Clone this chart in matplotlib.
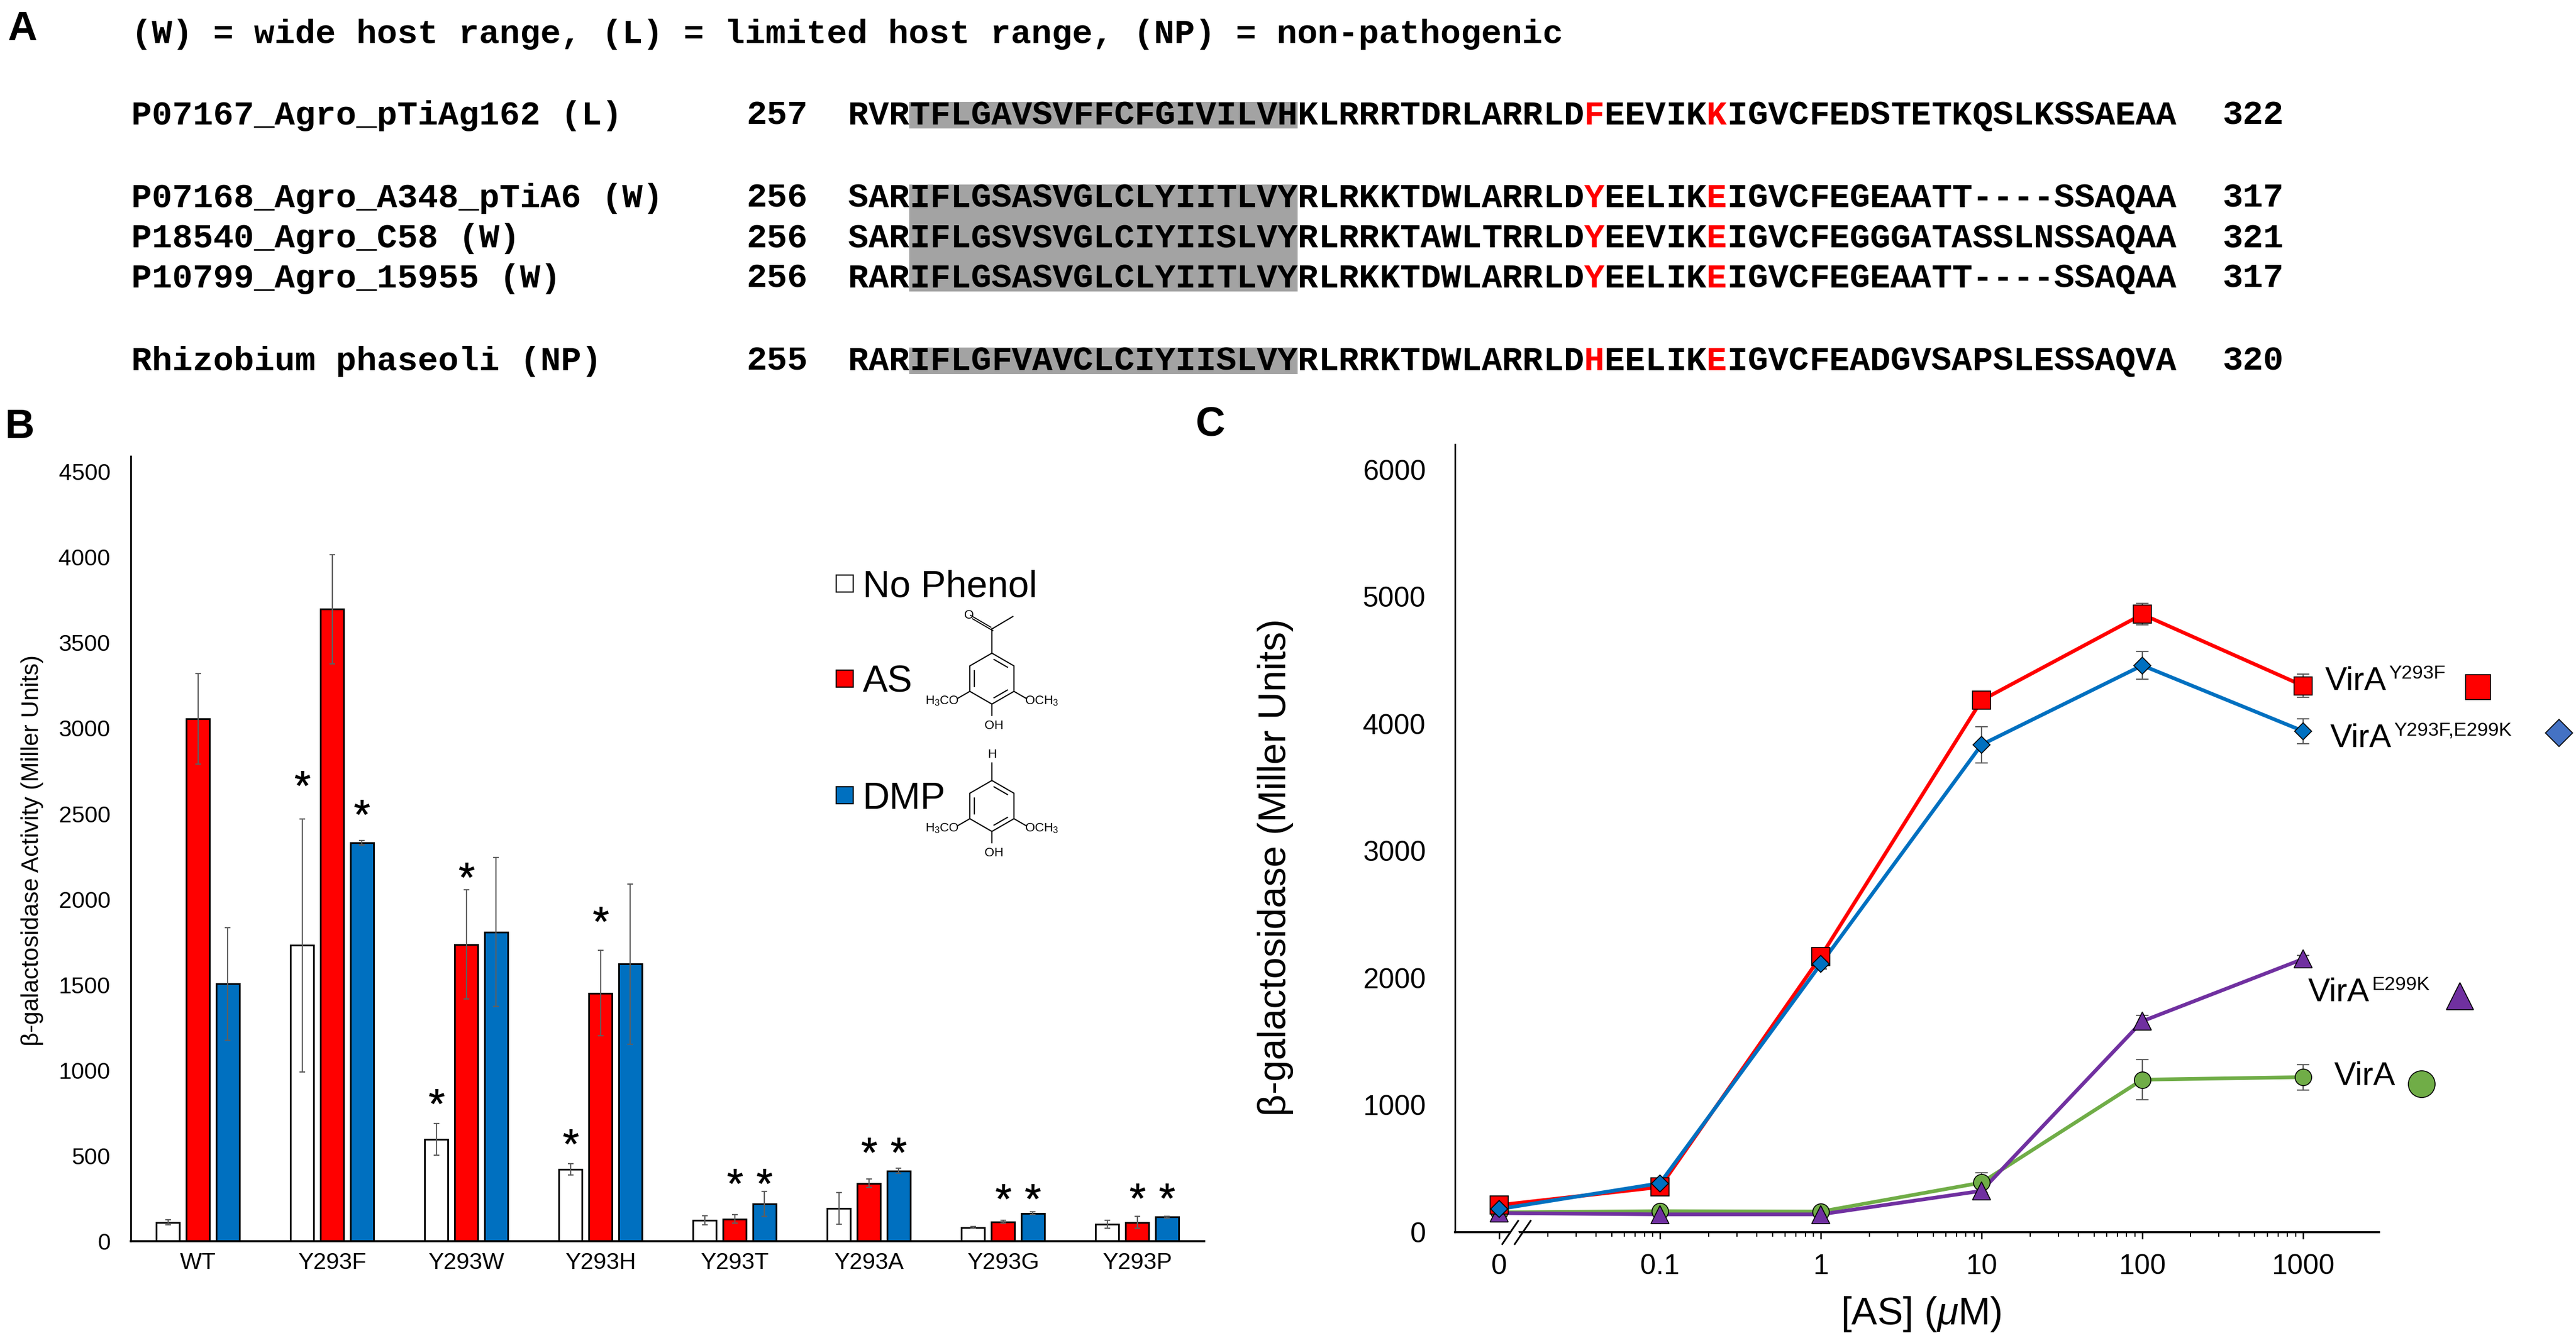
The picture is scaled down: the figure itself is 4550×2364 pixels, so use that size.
import matplotlib
matplotlib.use("Agg")
import matplotlib.pyplot as plt
import numpy as np
from matplotlib.patches import Rectangle, Polygon
from matplotlib.ticker import FixedLocator, NullFormatter

plt.rcParams['font.family'] = 'Liberation Sans'
plt.rcParams['mathtext.fontset'] = 'custom'
plt.rcParams['mathtext.rm'] = 'Liberation Sans'
plt.rcParams['mathtext.it'] = 'Liberation Sans:italic'
plt.rcParams['mathtext.bf'] = 'Liberation Sans:bold'

W, H = 4550, 2364
DPI = 100

# ---------------- panel A : alignment ----------------
header = "(W) = wide host range, (L) = limited host range, (NP) = non-pathogenic"
names = ["P07167_Agro_pTiAg162 (L)",
         "P07168_Agro_A348_pTiA6 (W)",
         "P18540_Agro_C58 (W)",
         "P10799_Agro_15955 (W)",
         "Rhizobium phaseoli (NP)"]
seq_start = [257, 256, 256, 256, 255]
seq_end = [322, 317, 321, 317, 320]
seqs = ["RVRTFLGAVSVFFCFGIVILVHKLRRRTDRLARRLDFEEVIKKIGVCFEDSTETKQSLKSSAEAA",
        "SARIFLGSASVGLCLYIITLVYRLRKKTDWLARRLDYEELIKEIGVCFEGEAATT----SSAQAA",
        "SARIFLGSVSVGLCIYIISLVYRLRRKTAWLTRRLDYEEVIKEIGVCFEGGGATASSLNSSAQAA",
        "RARIFLGSASVGLCLYIITLVYRLRKKTDWLARRLDYEELIKEIGVCFEGEAATT----SSAQAA",
        "RARIFLGFVAVCLCIYIISLVYRLRRKTDWLARRLDHEELIKEIGVCFEADGVSAPSLESSAQVA"]
tm_region = (3, 22)          # shaded residues (column range)
red_cols = [36, 42]          # highlighted residues

# ---------------- panel B : bar chart ----------------
mutants = ["WT", "Y293F", "Y293W", "Y293H", "Y293T", "Y293A", "Y293G", "Y293P"]
no_phenol = [110, 1730, 596, 420, 123, 193, 81, 100]
no_phenol_err = [15, 740, 93, 33, 27, 93, 6, 23]
as_vals = [3055, 3695, 1735, 1450, 130, 339, 113, 110]
as_err = [265, 320, 320, 250, 25, 24, 8, 35]
dmp_vals = [1505, 2330, 1808, 1620, 219, 412, 163, 141]
dmp_err = [330, 12, 435, 468, 72, 14, 8, 5]
# asterisks: (mutant index, series index, height)
stars = [(1, 0, 2708), (1, 2, 2538), (2, 0, 848), (2, 1, 2170),
         (3, 0, 611), (3, 1, 1914), (4, 1, 382), (4, 2, 382),
         (5, 1, 561), (5, 2, 561), (6, 1, 292), (6, 2, 292),
         (7, 1, 296), (7, 2, 296)]

# ---------------- panel C : dose response ----------------
as_conc = [0, 0.1, 1, 10, 100, 1000]
conc_labels = ["0", "0.1", "1", "10", "100", "1000"]
vira = [156, 165, 162, 390, 1200, 1220]
vira_err = [20, 20, 20, 78, 158, 100]
vira_e299k = [150, 140, 140, 325, 1660, 2150]
vira_e299k_err = [20, 15, 15, 60, 45, 30]
vira_y293f = [213, 355, 2170, 4185, 4862, 4300]
vira_y293f_err = [25, 25, 40, 50, 85, 90]
vira_y293f_e299k = [182, 385, 2110, 3836, 4460, 3943]
vira_y293f_e299k_err = [30, 30, 40, 142, 110, 98]

RED = "#FF0000"
BLUE = "#0070C0"
PURPLE = "#7030A0"
GREEN = "#70AD47"
EGRAY = "#5f5f5f"

fig = plt.figure(figsize=(W / DPI, H / DPI), dpi=DPI)

# overlay in pixel coordinates (y down) for text and drawings
ax0 = fig.add_axes([0, 0, 1, 1])
ax0.set_xlim(0, W)
ax0.set_ylim(H, 0)
ax0.axis('off')
ax0.set_zorder(10)

# panel letters
for letter, lx, ly in [("A", 13, 71), ("B", 8, 774), ("C", 2112, 769)]:
    ax0.text(lx, ly, letter, fontsize=52, weight='bold', va='baseline', ha='left')

# alignment
mono = dict(family='Liberation Mono', weight='bold', fontsize=43.3, va='baseline', ha='left')
cw = 36.1
name_x, num_x, seq_x, end_x = 232, 1318, 1498, 3925
row_y = [220, 366, 437, 508, 654]
ax0.text(name_x, 76, header, **mono)

for grp in [[0], [1, 2, 3], [4]]:
    top = row_y[grp[0]] - 40
    bot = row_y[grp[-1]] + 7
    ax0.add_patch(Rectangle((seq_x + tm_region[0] * cw, top), (tm_region[1] - tm_region[0]) * cw,
                            bot - top, facecolor='#a3a3a3', edgecolor='none', zorder=0))

for i in range(len(seqs)):
    y = row_y[i]
    ax0.text(name_x, y, names[i], **mono)
    ax0.text(num_x, y, str(seq_start[i]), **mono)
    ax0.text(end_x, y, str(seq_end[i]), **mono)
    for j, ch in enumerate(seqs[i]):
        ax0.text(seq_x + j * cw, y, ch, color=RED if j in red_cols else 'black', zorder=2, **mono)

# ---------------- panel B ----------------
axB = fig.add_axes([231 / W, 1 - 2193 / H, 1896 / W, (2193 - 806) / H])
xb = np.arange(len(mutants))
offs = [-0.2236, 0.0, 0.2236]
bw = 0.177
series_b = [(no_phenol, no_phenol_err, 'white'), (as_vals, as_err, RED), (dmp_vals, dmp_err, BLUE)]
for k, (vals, err, col) in enumerate(series_b):
    axB.bar(xb + offs[k], vals, bw, color=col, edgecolor='black', linewidth=2.2, zorder=2)
    axB.errorbar(xb + offs[k], vals, yerr=err, fmt='none', ecolor=EGRAY, elinewidth=1.6,
                 capsize=3.6, capthick=1.6, zorder=3)
sx = [xb[m] + offs[s] for m, s, _ in stars]
sy = [h for _, _, h in stars]
axB.plot(sx, sy, linestyle='none', marker='$*$', ms=19, color='black', mew=0.6, zorder=4)

axB.set_xlim(-0.5, 7.5)
axB.set_ylim(0, 4590)
axB.set_yticks(range(0, 4501, 500))
axB.set_xticks(xb, mutants)
axB.tick_params(axis='y', length=0, pad=26, labelsize=29.5)
axB.tick_params(axis='x', length=0, pad=14, labelsize=29.5)
for s in ['top', 'right']:
    axB.spines[s].set_visible(False)
axB.spines['left'].set_linewidth(2.2)
axB.spines['bottom'].set_linewidth(2.6)
ax0.text(57, 1503, "β-galactosidase Activity (Miller Units)", rotation=90, fontsize=30.5,
         ha='center', va='center')

# legend of panel B
leg_items = [("No Phenol", 'white', 1031), ("AS", RED, 1199), ("DMP", BLUE, 1405)]
for lab, col, yc in leg_items:
    ax0.add_patch(Rectangle((1477, yc - 15), 30, 30, facecolor=col, edgecolor='black', lw=1.6))
    ax0.text(1524, yc + 0.358 * 66, lab, fontsize=47.5, va='baseline', ha='left')


def ring(cx, cy, r):
    ang = np.deg2rad([90, 30, -30, -90, -150, 150])
    xs = cx + r * np.cos(ang)
    ys = cy - r * np.sin(ang)
    ax0.plot(np.append(xs, xs[0]), np.append(ys, ys[0]), color='black', lw=1.5, solid_joinstyle='miter')
    for i in (0, 2, 4):
        j = (i + 1) % 6
        p = np.array([xs[i], ys[i]])
        q = np.array([xs[j], ys[j]])
        c = np.array([cx, cy])
        p2 = c + (p - c) * 0.8
        q2 = c + (q - c) * 0.8
        d = q2 - p2
        a = p2 + 0.12 * d
        b = q2 - 0.12 * d
        ax0.plot([a[0], b[0]], [a[1], b[1]], color='black', lw=1.5)
    return xs, ys


def substituents(xs, ys, r):
    small = dict(fontsize=16, va='center')
    # lower-left methoxy
    ex, ey = xs[4] - 0.55 * r * np.cos(np.deg2rad(30)), ys[4] + 0.55 * r * 0.5
    ax0.plot([xs[4], ex], [ys[4], ey], color='black', lw=1.5)
    ax0.text(ex + 2, ey + 5, "H$_3$CO", ha='right', **small)
    # lower-right methoxy
    ex, ey = xs[2] + 0.55 * r * np.cos(np.deg2rad(30)), ys[2] + 0.55 * r * 0.5
    ax0.plot([xs[2], ex], [ys[2], ey], color='black', lw=1.5)
    ax0.text(ex - 2, ey + 5, "OCH$_3$", ha='left', **small)
    # hydroxyl
    ax0.plot([xs[3], xs[3]], [ys[3], ys[3] + 0.45 * r], color='black', lw=1.5)
    ax0.text(xs[3] + 4, ys[3] + 0.45 * r + 18, "OH", ha='center', **small)


# acetosyringone
r = 45
xs, ys = ring(1752, 1199, r)
substituents(xs, ys, r)
cx, cy = xs[0], ys[0] - 0.95 * r
ax0.plot([xs[0], cx], [ys[0], cy], color='black', lw=1.5)
ox, oy = cx - 36, cy - 21
for sh in (-3.5, 3.5):
    ax0.plot([cx + sh * 0.5, ox + sh * 0.5], [cy + sh * 0.87, oy + sh * 0.87], color='black', lw=1.3)
ax0.text(ox - 4, oy - 3, "O", fontsize=16, ha='center', va='center')
ax0.plot([cx, cx + 37], [cy, cy - 22], color='black', lw=1.5)

# 2,6-dimethoxyphenol
xs, ys = ring(1752, 1424, r)
substituents(xs, ys, r)
ax0.plot([xs[0], xs[0]], [ys[0], ys[0] - 0.7 * r], color='black', lw=1.5)
ax0.text(xs[0], ys[0] - 0.7 * r - 14, "H", fontsize=16, ha='center', va='center')

# ---------------- panel C ----------------
axC = fig.add_axes([2570 / W, 1 - 2177 / H, 1632 / W, (2177 - 785) / H])
zero_pos = 0.01
xp = [zero_pos if c == 0 else c for c in as_conc]
axC.set_xscale('log')
axC.set_xlim(10 ** -2.275, 10 ** 3.472)
axC.set_ylim(0, 6200)

series_c = [
    (vira, vira_err, GREEN, 'o', 21, GREEN),
    (vira_e299k, vira_e299k_err, PURPLE, '^', 23, PURPLE),
    (vira_y293f, vira_y293f_err, RED, 's', 23, RED),
    (vira_y293f_e299k, vira_y293f_e299k_err, BLUE, 'D', 15.5, BLUE),
]
for vals, err, col, mk, ms, fc in series_c:
    axC.errorbar(xp, vals, yerr=err, fmt='none', ecolor=EGRAY, elinewidth=1.6,
                 capsize=8, capthick=1.6, zorder=2)
for vals, err, col, mk, ms, fc in series_c:
    axC.plot(xp, vals, color=col, lw=4.7, zorder=3)
    axC.plot(xp, vals, linestyle='none', marker=mk, ms=ms, mfc=fc, mec='black', mew=1.2, zorder=4)

major = [zero_pos, 0.1, 1, 10, 100, 1000]
axC.xaxis.set_major_locator(FixedLocator(major))
axC.set_xticklabels(conc_labels)
minor = [m * 10.0 ** e for e in range(-2, 3) for m in range(2, 10)]
axC.xaxis.set_minor_locator(FixedLocator(minor))
axC.xaxis.set_minor_formatter(NullFormatter())
axC.set_yticks(range(0, 6001, 1000))
axC.tick_params(axis='x', which='major', length=8.6, width=1.8, direction='out', pad=19, labelsize=36)
axC.tick_params(axis='x', which='minor', length=5.5, width=1.5, direction='out')
axC.tick_params(axis='y', length=0, pad=37, labelsize=36)
for s in ['top', 'right']:
    axC.spines[s].set_visible(False)
axC.spines['left'].set_linewidth(2.0)
axC.spines['bottom'].set_linewidth(2.6)

ax0.text(2253, 1533, "β-galactosidase (Miller Units)", rotation=90, fontsize=49,
         ha='center', va='center')
ax0.text(3393, 2322, r"[AS] ($\mathit{\mu}$M)", fontsize=49, ha='center', va='center')

# axis break marks
bx, by = axC.transData.transform((0.0128, 0))
bx, by = bx, H - by
ax0.add_patch(Polygon([[bx - 12, by - 6], [bx + 2, by - 6], [bx + 6, by + 6], [bx - 8, by + 6]],
                      closed=True, facecolor='white', edgecolor='none', zorder=5))
for dx in (-11, 11):
    ax0.plot([bx + dx - 14, bx + dx + 14], [by + 21, by - 20], color='black', lw=2.2, zorder=6)

# right-hand labels of panel C
renderer = fig.canvas.get_renderer()
labels_c = [("Y293F", 4107, 1219, 's', 31, RED, 4377, 1214),
            ("Y293F,E299K", 4116, 1320, 'D', 24.4, "#4472C4", 4520, 1295),
            ("E299K", 4077, 1769, '^', 35, PURPLE, 4345, 1760),
            ("", 4123, 1917, 'o', 34, GREEN, 4277, 1915)]
for sup, tx, ty, mk, ms, fc, mx, my in labels_c:
    t = ax0.text(tx, ty, "VirA", fontsize=41.8, va='baseline', ha='left')
    if sup:
        bb = t.get_window_extent(renderer)
        ax0.text(bb.x1 + 4, ty - 20, sup, fontsize=24.5, va='baseline', ha='left')
    ax0.plot([mx], [my], marker=mk, ms=ms, mfc=fc, mec='black', mew=1.2, linestyle='none')

fig.savefig("out.png", dpi=DPI)
